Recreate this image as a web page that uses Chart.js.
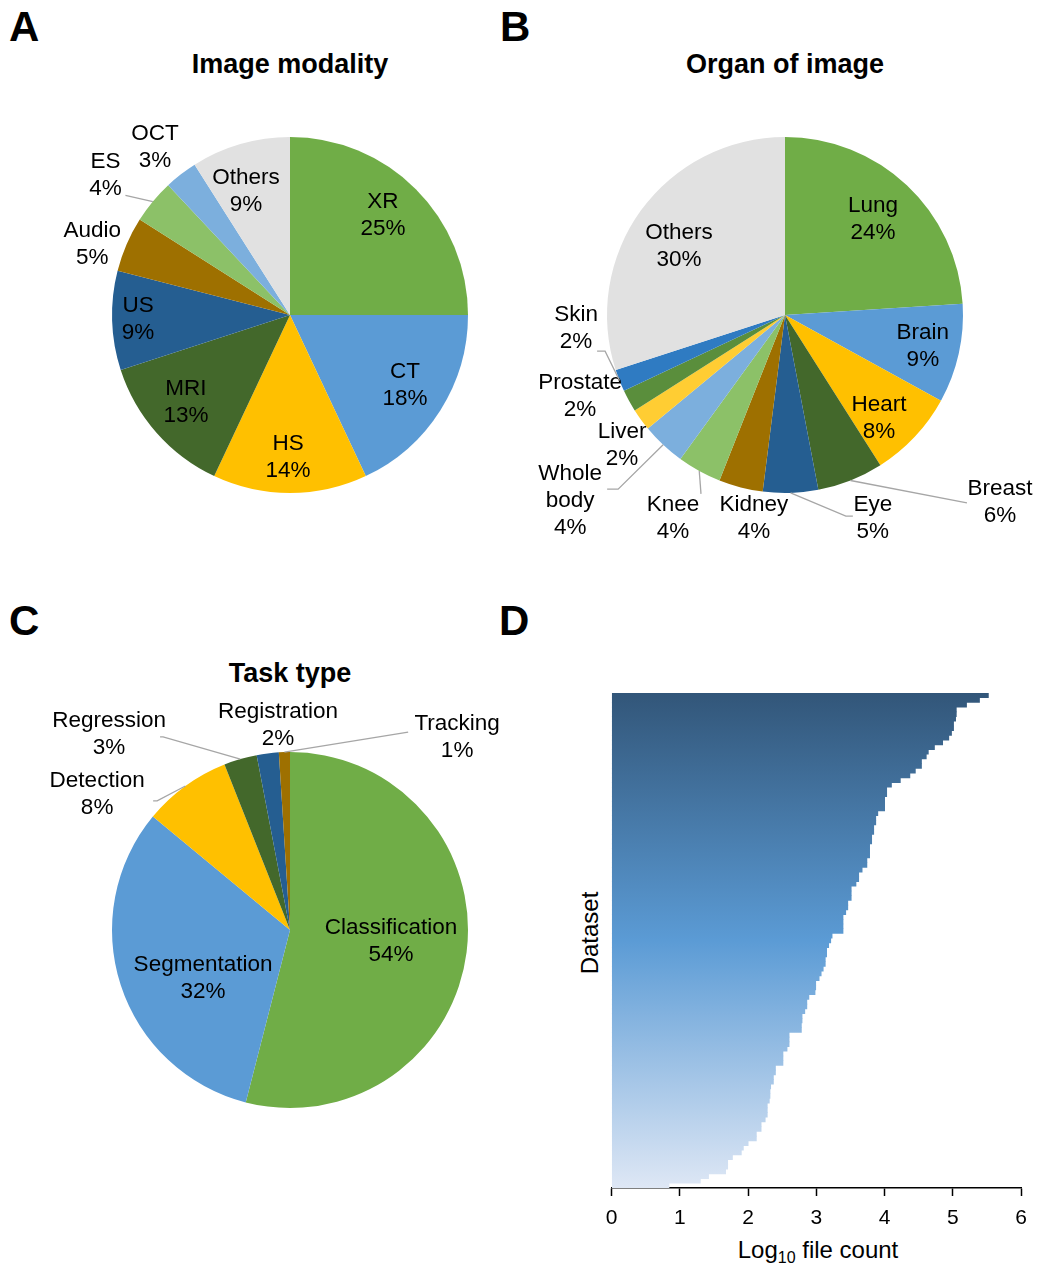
<!DOCTYPE html>
<html><head><meta charset="utf-8">
<script src="https://cdn.jsdelivr.net/npm/chart.js@4/dist/chart.umd.min.js"></script>
<style>
html,body{margin:0;padding:0;background:#fff;}
body{width:1037px;height:1266px;position:relative;overflow:hidden;font-family:"Liberation Sans",Arial,sans-serif;color:#000;}
canvas{position:absolute;left:0;top:0;}
.t{position:absolute;white-space:nowrap;line-height:1;}
.letter{font-weight:bold;font-size:42px;}
.title{font-weight:bold;font-size:27px;transform:translateX(-50%);}
.axt{font-size:24px;}
</style></head><body>
<div class="t letter" style="left:9px;top:5.5px">A</div>
<div class="t letter" style="left:500px;top:5.5px">B</div>
<div class="t letter" style="left:9px;top:599.5px">C</div>
<div class="t letter" style="left:499px;top:599.5px">D</div>
<div class="t title" style="left:290px;top:50.6px">Image modality</div>
<div class="t title" style="left:785px;top:50.6px">Organ of image</div>
<div class="t title" style="left:290px;top:659.5px">Task type</div>
<div class="t axt" style="left:590px;top:933px;transform:translate(-50%,-50%) rotate(-90deg)">Dataset</div>
<div class="t axt" style="left:818px;top:1238px;transform:translateX(-50%)">Log<sub style="font-size:16px;vertical-align:-5px;line-height:0">10</sub> file count</div>
<canvas id="pieA" width="1037" height="1266"></canvas>
<canvas id="pieB" width="1037" height="1266"></canvas>
<canvas id="pieC" width="1037" height="1266"></canvas>
<canvas id="barD" width="1037" height="1266"></canvas>
<script>
// ---------- DATA ----------
const modalityLabels = ['XR','CT','HS','MRI','US','Audio','ES','OCT','Others'];
const modalityValues = [25,18,14,13,9,5,4,3,9];

const organLabels = ['Lung','Brain','Heart','Breast','Eye','Kidney','Knee','Whole\nbody','Liver','Prostate','Skin','Others'];
const organValues = [24,9,8,6,5,4,4,4,2,2,2,30];

const taskLabels = ['Classification','Segmentation','Detection','Regression','Registration','Tracking'];
const taskValues = [54,32,8,3,2,1];

// Log10 file count per dataset (sorted, largest first)
const fileCountLog10 = [
  5.52,5.39,5.20,5.05,5.05,5.04,5.01,5.01,4.98,4.94,
  4.85,4.73,4.64,4.61,4.54,4.54,4.45,4.37,4.23,4.10,
  4.03,4.03,4.00,4.00,4.00,3.90,3.87,3.87,3.84,3.84,
  3.81,3.81,3.78,3.78,3.78,3.74,3.74,3.67,3.62,3.62,
  3.58,3.51,3.51,3.51,3.46,3.46,3.43,3.39,3.39,3.39,
  3.39,3.23,3.21,3.18,3.15,3.15,3.13,3.13,3.10,3.07,
  3.04,2.99,2.99,2.98,2.89,2.86,2.86,2.83,2.79,2.79,
  2.78,2.78,2.60,2.60,2.60,2.57,2.51,2.51,2.51,2.40,
  2.40,2.37,2.37,2.33,2.32,2.32,2.31,2.28,2.28,2.28,
  2.25,2.19,2.19,2.12,2.12,2.00,1.93,1.90,1.77,1.70,
  1.70,1.67,1.42,1.30,0.84
];
const datasetNames = fileCountLog10.map((_, i) => 'Dataset ' + (i + 1));
const xTickValues = [0,1,2,3,4,5,6];

// ---------- STYLE ----------
const modalityColors = ['#70AD47','#5B9BD5','#FFC000','#43682B','#255E91','#9E7000','#8CC168','#7CAFDD','#E1E1E1'];
const organColors = ['#70AD47','#5B9BD5','#FFC000','#43682B','#255E91','#9E7000','#8CC168','#7CAFDD','#FFCD33','#5A8E3C','#2F7BC2','#E1E1E1'];
const taskColors = ['#70AD47','#5B9BD5','#FFC000','#43682B','#255E91','#9E7000'];

// label placement: k = radius factor, da = angle offset (deg) from slice middle, leader = offsets from label centre
const modalityLayout = [
  {k:.767,da:-2.1},{k:.756,da:-1.1},{k:.798,da:0.8},{k:.762,da:1.5},{k:.854,da:0.3},
  {k:1.18,da:-3.7},{k:1.30,da:-2.5,leader:[[20,20]]},{k:1.21,da:-1},{k:.739,da:-3.3}
];
const organLayout = [
  {k:.731,da:-0.7},{k:.794,da:0.1},{k:.783,da:4.4},
  {k:1.60,da:-27.4,leader:[[-33,1]]},
  {k:1.243,da:-21.6,leader:[[-27,-2],[-20,-2]]},
  {k:1.154,da:-5.7},
  {k:1.302,da:0.1,leader:[[28,-24]]},
  {k:1.597,da:5.9,leader:[[48,-12],[37,-12]]},
  {k:1.171,da:-2.6},{k:1.238,da:7.2},
  {k:1.176,da:18,leader:[[29,23],[21,23]]},
  {k:.711,da:-2.9}
];
const taskLayout = [
  {k:.571,da:-1},{k:.558,da:-10.9},
  {k:1.326,da:-18.8,leader:[[60,7],[56,7]]},
  {k:1.499,da:-26.5,leader:[[54,3],[51,3]]},
  {k:1.154,da:3.85},
  {k:1.434,da:42.7,leader:[[-49,-5]]}
];

const FONT = '"Liberation Sans", Arial, sans-serif';

const pieLabelPlugin = {
  id: 'pieLabels',
  afterDraw(chart, args, opts) {
    if (!opts || !opts.layout) return;
    const ctx = chart.ctx;
    const meta = chart.getDatasetMeta(0);
    const names = chart.data.labels;
    const vals = chart.data.datasets[0].data;
    ctx.save();
    meta.data.forEach((arc, i) => {
      const p = arc.getProps(['x','y','startAngle','endAngle','outerRadius'], true);
      const mid = (p.startAngle + p.endAngle) / 2;
      const L = opts.layout[i];
      const a = mid + L.da * Math.PI / 180;
      const cx = p.x + Math.cos(a) * p.outerRadius * L.k;
      const cy = p.y + Math.sin(a) * p.outerRadius * L.k;
      if (L.leader) {
        ctx.beginPath();
        ctx.moveTo(p.x + Math.cos(mid) * p.outerRadius, p.y + Math.sin(mid) * p.outerRadius);
        L.leader.forEach(([dx, dy]) => ctx.lineTo(cx + dx, cy + dy));
        ctx.strokeStyle = opts.leaderColor;
        ctx.lineWidth = 1.3;
        ctx.stroke();
      }
      ctx.font = opts.font;
      ctx.fillStyle = '#000';
      ctx.textAlign = 'center';
      ctx.textBaseline = 'middle';
      const lines = String(names[i]).split('\n').concat([vals[i] + '%']);
      lines.forEach((t, j) => ctx.fillText(t, cx, cy + (j - (lines.length - 1) / 2) * opts.lineHeight));
    });
    ctx.restore();
  }
};
Chart.register(pieLabelPlugin);

function makePie(id, labels, values, colors, pad, layout) {
  return new Chart(document.getElementById(id), {
    type: 'pie',
    data: { labels: labels, datasets: [{ data: values, backgroundColor: colors, borderWidth: 0 }] },
    options: {
      responsive: false, animation: false, events: [],
      layout: { padding: pad },
      plugins: {
        legend: { display: false }, tooltip: { enabled: false },
        pieLabels: { layout: layout, font: '22.5px ' + FONT, lineHeight: 27, leaderColor: '#A6A6A6' }
      }
    }
  });
}

makePie('pieA', modalityLabels, modalityValues, modalityColors, {left:112,right:569,top:137,bottom:773}, modalityLayout);
makePie('pieB', organLabels, organValues, organColors, {left:607,right:74,top:137,bottom:773}, organLayout);
makePie('pieC', taskLabels, taskValues, taskColors, {left:112,right:569,top:752,bottom:158}, taskLayout);

let barGrad = null;
function barGradient(context) {
  const chart = context.chart;
  const area = chart.chartArea;
  if (!area) return '#5B9BD5';
  if (!barGrad) {
    barGrad = chart.ctx.createLinearGradient(0, area.top, 0, area.bottom);
    barGrad.addColorStop(0, '#325679');
    barGrad.addColorStop(0.5, '#5B9BD5');
    barGrad.addColorStop(1, '#DEE7F5');
  }
  return barGrad;
}

new Chart(document.getElementById('barD'), {
  type: 'bar',
  data: {
    labels: datasetNames,
    datasets: [{ data: fileCountLog10, backgroundColor: barGradient, borderWidth: 0,
                 barPercentage: 1, categoryPercentage: 1 }]
  },
  options: {
    indexAxis: 'y',
    responsive: false, animation: false, events: [],
    layout: { padding: { left: 611.7, right: 14.2, top: 693, bottom: 28 } },
    plugins: { legend: { display: false }, tooltip: { enabled: false } },
    scales: {
      x: {
        type: 'linear', min: xTickValues[0], max: xTickValues[xTickValues.length - 1],
        afterBuildTicks: (s) => { s.ticks = xTickValues.map(v => ({ value: v })); },
        afterFit: (s) => { s.height = 50; },
        ticks: { color: '#000', font: { size: 21, family: FONT }, padding: 10 },
        grid: { drawOnChartArea: false, drawTicks: true, tickLength: 8, tickColor: '#000', tickWidth: 1.5 },
        border: { color: '#000', width: 1.5 }
      },
      y: { display: false }
    }
  }
});
</script>
</body></html>
